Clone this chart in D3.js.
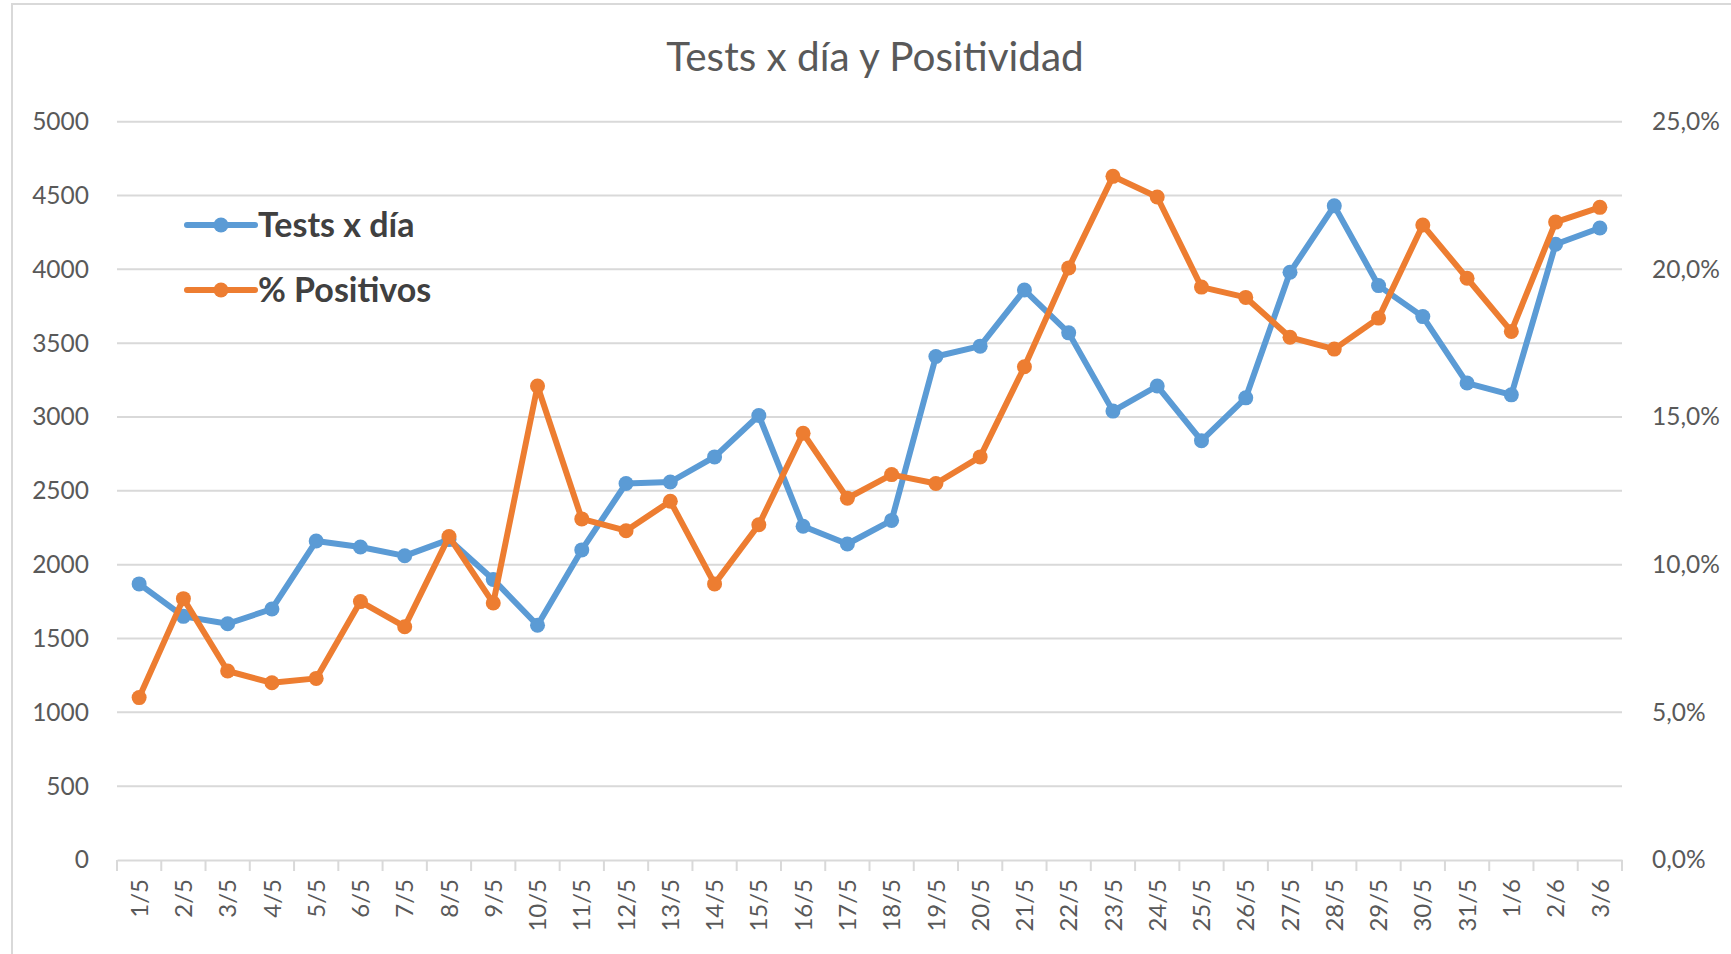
<!DOCTYPE html>
<html><head><meta charset="utf-8">
<script src="https://cdn.jsdelivr.net/npm/d3@7"></script>
<style>body{margin:0;background:#fff}svg{display:block}</style>
</head><body>
<script>
const categories = ["1/5","2/5","3/5","4/5","5/5","6/5","7/5","8/5","9/5","10/5","11/5","12/5","13/5","14/5","15/5","16/5","17/5","18/5","19/5","20/5","21/5","22/5","23/5","24/5","25/5","26/5","27/5","28/5","29/5","30/5","31/5","1/6","2/6","3/6"];
const testsPorDia = [1870,1650,1600,1700,2160,2120,2060,2170,1900,1590,2100,2550,2560,2730,3010,2260,2140,2300,3410,3480,3860,3570,3040,3210,2840,3130,3980,4430,3890,3680,3230,3150,4170,4280];
const positivos = [5.5,8.85,6.4,6.0,6.15,8.75,7.9,10.95,8.7,16.05,11.55,11.15,12.15,9.35,11.35,14.45,12.25,13.05,12.75,13.65,16.7,20.05,23.15,22.45,19.4,19.05,17.7,17.3,18.35,21.5,19.7,17.9,21.6,22.1];
const leftTicks = [0,500,1000,1500,2000,2500,3000,3500,4000,4500,5000];
const rightTicks = [0,5,10,15,20,25];
const title = "Tests x día y Positividad";
const seriesNames = ["Tests x día","% Positivos"];
const colors = ["#5B9BD5","#ED7D31"];

const W = 1731, H = 954;
const plot = {left:117, right:1622, top:121.7, bottom:860};
const svg = d3.select("body").append("svg").attr("width",W).attr("height",H);
const font = "Lato, 'Open Sans', sans-serif";

svg.append("rect").attr("x",12).attr("y",4).attr("width",W).attr("height",H)
  .attr("fill","#fff").attr("stroke","#d9d9d9").attr("stroke-width",2);

const x = d3.scaleBand().domain(categories).range([plot.left, plot.right]).padding(0);
const yL = d3.scaleLinear().domain([0,5000]).range([plot.bottom, plot.top]);
const yR = d3.scaleLinear().domain([0,25]).range([plot.bottom, plot.top]);

// gridlines
svg.append("g").selectAll("line").data(leftTicks.slice(1)).join("line")
  .attr("x1",plot.left).attr("x2",plot.right)
  .attr("y1",d=>yL(d)).attr("y2",d=>yL(d))
  .attr("stroke","#d9d9d9").attr("stroke-width",2);

// left axis labels
const gL = svg.append("g").attr("transform",`translate(${89},0)`)
  .call(d3.axisLeft(yL).tickValues(leftTicks).tickSize(0).tickPadding(0).tickFormat(d3.format("d")));
gL.select(".domain").remove();
gL.selectAll("text").attr("font-family",font).attr("font-size",24.5).attr("fill","#595959");

// right axis labels
const gR = svg.append("g").attr("transform",`translate(${1652},0)`)
  .call(d3.axisRight(yR).tickValues(rightTicks).tickSize(0).tickPadding(0)
    .tickFormat(d=>d3.format(".1f")(d).replace(".",",")+"%"));
gR.select(".domain").remove();
gR.selectAll("text").attr("font-family",font).attr("font-size",24.5).attr("fill","#595959");

// bottom axis
const gB = svg.append("g").attr("transform",`translate(0,${plot.bottom})`)
  .call(d3.axisBottom(x).tickSize(0).tickPadding(0));
gB.select(".domain").attr("stroke","#d9d9d9").attr("stroke-width",2);
gB.selectAll("text").attr("font-family",font).attr("font-size",24).attr("fill","#595959")
  .attr("transform","rotate(-90)").attr("text-anchor","end")
  .attr("x",-19).attr("y",0).attr("dy","0.36em");
const boundaries = categories.map(c=>x(c)).concat([plot.right]);
svg.append("g").selectAll("line").data(boundaries).join("line")
  .attr("x1",d=>d).attr("x2",d=>d).attr("y1",plot.bottom).attr("y2",plot.bottom+11)
  .attr("stroke","#d9d9d9").attr("stroke-width",2);

const cx = d => x(d) + x.bandwidth()/2;

function drawSeries(vals, yScale, color){
  const line = d3.line().x((d,i)=>cx(categories[i])).y(d=>yScale(d));
  svg.append("path").datum(vals).attr("d",line).attr("fill","none")
    .attr("stroke",color).attr("stroke-width",6).attr("stroke-linejoin","round").attr("stroke-linecap","round");
  svg.append("g").selectAll("circle").data(vals).join("circle")
    .attr("cx",(d,i)=>cx(categories[i])).attr("cy",d=>yScale(d)).attr("r",7.5).attr("fill",color);
}
drawSeries(testsPorDia, yL, colors[0]);
drawSeries(positivos, yR, colors[1]);

// title
svg.append("text").attr("x",875).attr("y",71).attr("text-anchor","middle")
  .attr("font-family",font).attr("font-size",40.5).attr("fill","#595959").text(title);

// legend
const legY = [225, 290];
seriesNames.forEach((n,i)=>{
  const g = svg.append("g");
  g.append("line").attr("x1",187).attr("x2",255).attr("y1",legY[i]).attr("y2",legY[i])
    .attr("stroke",colors[i]).attr("stroke-width",6).attr("stroke-linecap","round");
  g.append("circle").attr("cx",221).attr("cy",legY[i]).attr("r",7.5).attr("fill",colors[i]);
  g.append("text").attr("x",258).attr("y",legY[i]).attr("dy","0.36em")
    .attr("font-family",font).attr("font-weight","bold").attr("font-size",34)
    .attr("fill","#404040").text(n);
});
</script>
</body></html>
